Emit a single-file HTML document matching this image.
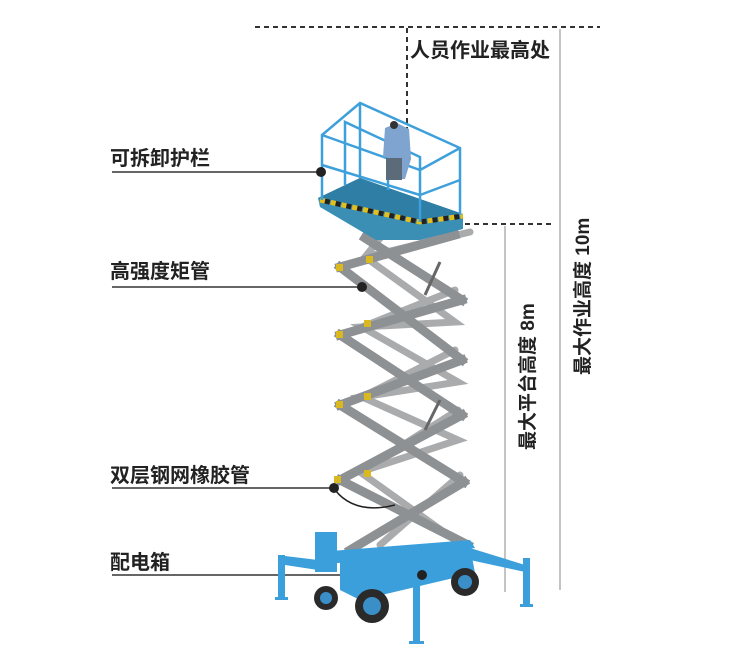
<!DOCTYPE html>
<html><head><meta charset="utf-8"><style>
html,body{margin:0;padding:0;background:#fff;}
svg{display:block;}
.t{font-family:"Liberation Sans","Noto Sans CJK SC",sans-serif;font-weight:bold;fill:#222;}
</style></head><body>
<svg width="730" height="661" viewBox="0 0 730 661" xmlns="http://www.w3.org/2000/svg">
<line x1="255" y1="27" x2="600" y2="27" stroke="#333" stroke-width="2" stroke-dasharray="5,4"/>
<line x1="407" y1="28" x2="407" y2="142" stroke="#333" stroke-width="2" stroke-dasharray="5,4"/>
<line x1="465" y1="224" x2="553" y2="224" stroke="#333" stroke-width="2" stroke-dasharray="5,4"/>
<line x1="560" y1="29" x2="560" y2="590" stroke="#888" stroke-width="1"/>
<line x1="505" y1="226" x2="505" y2="592" stroke="#888" stroke-width="1"/>
<text class="t" x="410" y="57" font-size="20">人员作业最高处</text>
<text class="t" font-size="19" transform="translate(534,450) rotate(-90)">最大平台高度  8m</text>
<text class="t" font-size="19" transform="translate(589,375) rotate(-90)">最大作业高度  10m</text>

<text class="t" x="110" y="165" font-size="20">可拆卸护栏</text>
<line x1="112" y1="172" x2="321" y2="172" stroke="#333" stroke-width="1.5"/>
<text class="t" x="110" y="278" font-size="20">高强度矩管</text>
<line x1="112" y1="287" x2="362" y2="287" stroke="#333" stroke-width="1.5"/>
<text class="t" x="110" y="482" font-size="20">双层钢网橡胶管</text>
<line x1="112" y1="488" x2="334" y2="488" stroke="#333" stroke-width="1.5"/>
<text class="t" x="110" y="569" font-size="20">配电箱</text>
<line x1="112" y1="575" x2="422" y2="575" stroke="#333" stroke-width="1.5"/>

<!-- back scissors -->
<g stroke="#a9abad" stroke-width="7" stroke-linecap="round" fill="none">
<polyline points="385,232 365,257 455,322 362,327 458,382 362,397 458,440 360,472 455,540"/>
<polyline points="470,232 365,257"/>
<polyline points="455,290 362,327"/>
<polyline points="455,350 362,397"/>
<polyline points="458,410 360,472"/>
<polyline points="460,475 380,545"/>
</g>
<!-- front scissors -->
<g stroke="#8e9193" stroke-width="9" stroke-linecap="square" fill="none">
<line x1="365" y1="238" x2="462" y2="300"/>
<line x1="455" y1="235" x2="340" y2="267"/>
<line x1="340" y1="267" x2="462" y2="360"/>
<line x1="462" y1="300" x2="340" y2="335"/>
<line x1="340" y1="335" x2="462" y2="415"/>
<line x1="462" y1="360" x2="340" y2="405"/>
<line x1="340" y1="405" x2="464" y2="482"/>
<line x1="462" y1="415" x2="340" y2="480"/>
<line x1="340" y1="480" x2="468" y2="545"/>
<line x1="464" y1="482" x2="350" y2="550"/>
</g>
<g fill="#d9b820"><rect x="336" y="264" width="7" height="7"/><rect x="336" y="331" width="7" height="7"/><rect x="336" y="401" width="7" height="7"/><rect x="334" y="476" width="7" height="7"/><rect x="366" y="256" width="7" height="7"/><rect x="364" y="320" width="7" height="7"/><rect x="364" y="393" width="7" height="7"/><rect x="364" y="470" width="7" height="7"/></g>
<g stroke="#666" stroke-width="3"><line x1="440" y1="262" x2="425" y2="295"/><line x1="440" y1="400" x2="425" y2="430"/></g>
<path d="M335,490 q20,25 60,15" stroke="#222" stroke-width="1.5" fill="none"/>

<!-- platform -->
<polygon points="318,198 360,178 463,214 463,229 420,240 376,240 320,207" fill="#3b8fb5"/>
<polygon points="318,198 360,178 463,214 420,222" fill="#2f7ea6"/>
<polyline points="320,200 420,222 463,216" stroke="#e0c020" stroke-width="5" fill="none" stroke-dasharray="6,5"/>
<polyline points="320,200 420,222 463,216" stroke="#222" stroke-width="5" fill="none" stroke-dasharray="5,6" stroke-dashoffset="6"/>
<g stroke="#3ea0db" stroke-width="2.5" fill="none">
<polyline points="322,200 322,135 360,103 460,148 460,215"/>
<polyline points="322,135 420,170 460,148"/>
<polyline points="345,185 345,122 420,157 420,222"/>
<line x1="360" y1="103" x2="360" y2="178"/>
<line x1="322" y1="165" x2="420" y2="195"/>
<line x1="420" y1="195" x2="460" y2="180"/>
<line x1="388" y1="190" x2="388" y2="155"/>
</g>
<path d="M385,128 l12,-5 l12,6 l2,30 l-6,20 l-12,0 l-6,-22 l-4,0 z" fill="#7ea4cf"/>
<circle cx="394" cy="125" r="4" fill="#333"/>
<rect x="386" y="158" width="16" height="22" fill="#5b6b7a"/>

<!-- base -->
<g fill="#3b9fdc">
<polygon points="318,552 470,540 475,548 320,565"/>
<polygon points="340,560 470,546 475,573 360,600 340,590"/>
<rect x="315" y="532" width="22" height="40"/>
<polygon points="318,560 285,556 285,565 318,570"/>
<rect x="278" y="555" width="7" height="45"/>
<rect x="275" y="597" width="13" height="3"/>
<polygon points="470,548 525,565 525,572 470,560"/>
<rect x="523" y="558" width="7" height="48"/>
<rect x="520" y="604" width="13" height="3"/>
<rect x="413" y="578" width="7" height="65"/>
<rect x="409" y="641" width="15" height="3"/>
</g>
<g>
<circle cx="326" cy="598" r="12" fill="#2a2a2a"/><circle cx="326" cy="598" r="6" fill="#3b8fc8"/>
<circle cx="372" cy="606" r="17" fill="#2a2a2a"/><circle cx="372" cy="606" r="9" fill="#3b8fc8"/>
<circle cx="465" cy="582" r="14" fill="#2a2a2a"/><circle cx="465" cy="582" r="7" fill="#3b8fc8"/>
</g>
<circle cx="321" cy="172" r="5" fill="#222"/>
<circle cx="362" cy="287" r="5" fill="#222"/>
<circle cx="334" cy="488" r="5" fill="#222"/>
<circle cx="422" cy="575" r="5" fill="#222"/>
</svg>
</body></html>
